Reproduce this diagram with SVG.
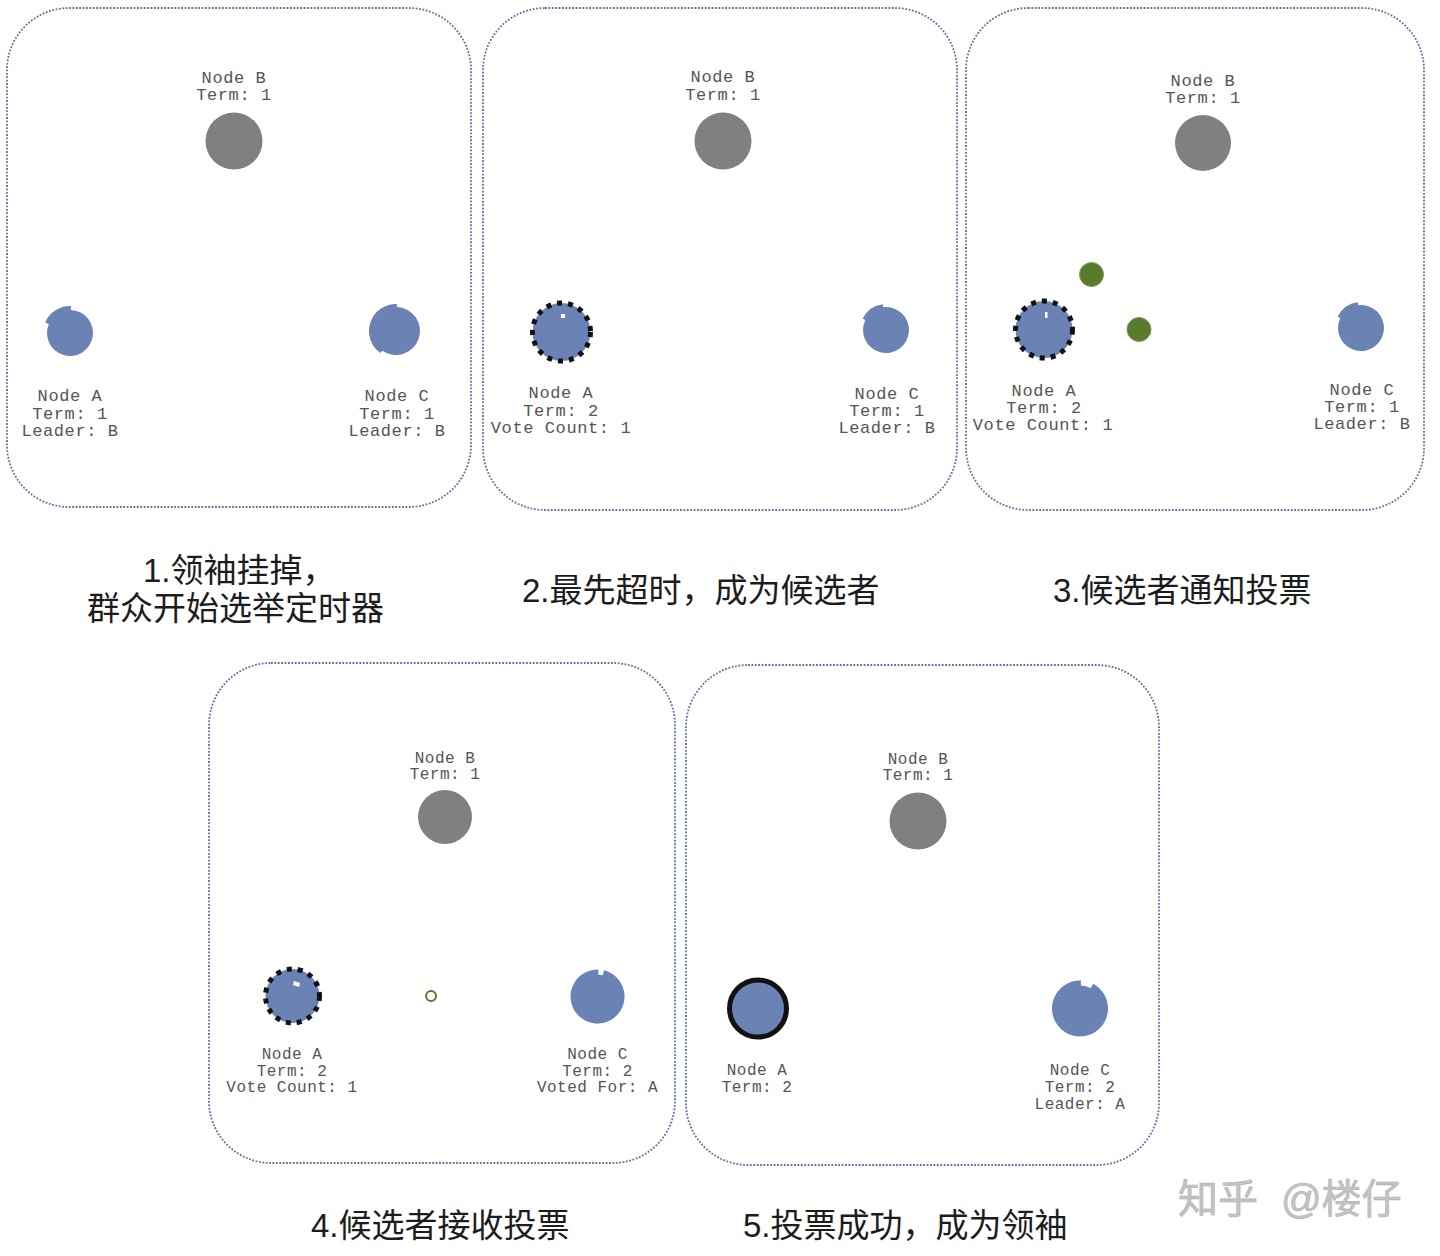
<svg xmlns="http://www.w3.org/2000/svg" width="1440" height="1256" viewBox="0 0 1440 1256">
<style>
.panel{fill:none;stroke:#5c71a6;stroke-width:1.8;stroke-dasharray:1.8 1.6}
.lbl{font-family:"Liberation Mono","DejaVu Sans Mono",monospace;font-size:17px;letter-spacing:0.6px;fill:#555;text-anchor:middle}
.lbl4{font-family:"Liberation Mono","DejaVu Sans Mono",monospace;font-size:16px;letter-spacing:0.5px;fill:#555;text-anchor:middle}
.gray{fill:#808080}
.blue{fill:#6a82b4}
.cand{fill:#6a82b4;stroke:#111;stroke-width:5;stroke-dasharray:5 6}
.leader{fill:#6a82b4;stroke:#111;stroke-width:5}
.vote{fill:#5a7b2c;stroke:#7c9a55;stroke-width:1}
.ring{fill:#fff;stroke:#5a7b2c;stroke-width:2}
.cap{font-family:"Liberation Sans","Noto Sans CJK SC",sans-serif;font-size:33px;fill:#1c1c1c}
.wm{font-family:"Liberation Sans","Noto Sans CJK SC",sans-serif;font-size:40px;fill:#c4c4c4;stroke:#b0b0b0;stroke-width:0.6}
</style>
<defs>
<path id="timerA" d="M-24.85,-10.55 A27,27 0 0 1 0.94,-26.98 L0.80,-22.99 A23,23 0 1 1 -21.17,-8.99 Z"/>
<path id="timerC1" d="M-15.49,22.12 A27,27 0 0 1 0.94,-26.98 L0.84,-23.99 A24,24 0 1 1 -13.77,19.66 Z"/>
<path id="timerC2" d="M-23.37,-11.40 A26,26 0 0 1 -3.17,-25.81 L-2.80,-22.83 A23,23 0 1 1 -20.67,-10.08 Z"/>
<path id="timerC4" d="M6.53,-26.20 A27,27 0 1 1 0.94,-26.98 L0.77,-21.99 L5.32,-21.35 Z"/>
<path id="timerC5" d="M13.15,-24.72 A28,28 0 1 1 0.98,-27.98 L0.80,-22.99 A23,23 0 0 1 10.80,-20.31 Z"/>
</defs>
<rect width="1440" height="1256" fill="#fff"/>

<!-- Panel 1 -->
<g id="panel1">
<rect class="panel" x="7" y="8" width="464" height="499" rx="62" ry="62"/>
<g id="p1-nodeB"><circle class="gray" cx="234" cy="141" r="28.5"/><text class="lbl" x="234" y="83">Node B</text><text class="lbl" x="234" y="100">Term: 1</text></g>
<g id="p1-nodeA"><use href="#timerA" class="blue" transform="translate(70,333)"/><text class="lbl" x="70" y="401">Node A</text><text class="lbl" x="70" y="418.5">Term: 1</text><text class="lbl" x="70" y="436">Leader: B</text></g>
<g id="p1-nodeC"><use href="#timerC1" class="blue" transform="translate(396,331)"/><text class="lbl" x="397" y="401">Node C</text><text class="lbl" x="397" y="418.5">Term: 1</text><text class="lbl" x="397" y="436">Leader: B</text></g>
</g>

<!-- Panel 2 -->
<g id="panel2">
<rect class="panel" x="483" y="8" width="474" height="502" rx="62" ry="62"/>
<g id="p2-nodeB"><circle class="gray" cx="723" cy="141" r="28.5"/><text class="lbl" x="723" y="82">Node B</text><text class="lbl" x="723" y="100">Term: 1</text></g>
<g id="p2-nodeA"><circle class="cand" cx="561.5" cy="332" r="29"/><rect x="561" y="314" width="4" height="4" fill="#fff"/><text class="lbl" x="561" y="398">Node A</text><text class="lbl" x="561" y="416">Term: 2</text><text class="lbl" x="561" y="433">Vote Count: 1</text></g>
<g id="p2-nodeC"><use href="#timerC2" class="blue" transform="translate(886,330)"/><text class="lbl" x="887" y="399">Node C</text><text class="lbl" x="887" y="416">Term: 1</text><text class="lbl" x="887" y="433">Leader: B</text></g>
</g>

<!-- Panel 3 -->
<g id="panel3">
<rect class="panel" x="966" y="8" width="458" height="502" rx="62" ry="62"/>
<g id="p3-nodeB"><circle class="gray" cx="1203" cy="143" r="28"/><text class="lbl" x="1203" y="86">Node B</text><text class="lbl" x="1203" y="103">Term: 1</text></g>
<g id="p3-nodeA"><circle class="cand" cx="1044" cy="329.5" r="28.5"/><rect x="1045" y="312" width="2.5" height="6" fill="#fff"/><text class="lbl" x="1044" y="396">Node A</text><text class="lbl" x="1044" y="413">Term: 2</text><text class="lbl" x="1043" y="430">Vote Count: 1</text></g>
<g id="p3-vote1"><circle class="vote" cx="1091.5" cy="274.5" r="12"/></g>
<g id="p3-vote2"><circle class="vote" cx="1139" cy="329.5" r="12"/></g>
<g id="p3-nodeC"><use href="#timerC2" class="blue" transform="translate(1361,328)"/><text class="lbl" x="1362" y="395">Node C</text><text class="lbl" x="1362" y="412">Term: 1</text><text class="lbl" x="1362" y="429">Leader: B</text></g>
</g>

<!-- Panel 4 -->
<g id="panel4">
<rect class="panel" x="209" y="663" width="466" height="500" rx="62" ry="62"/>
<g id="p4-nodeB"><circle class="gray" cx="445" cy="817" r="27"/><text class="lbl4" x="445" y="763">Node B</text><text class="lbl4" x="445" y="779">Term: 1</text></g>
<g id="p4-nodeA"><circle class="cand" cx="292.5" cy="996" r="27"/><path d="M294,981 L300,983 L299,987 L293,985 Z" fill="#fff"/><text class="lbl4" x="292" y="1059">Node A</text><text class="lbl4" x="292" y="1075.5">Term: 2</text><text class="lbl4" x="292" y="1092">Vote Count: 1</text></g>
<g id="p4-vote"><circle class="ring" cx="431" cy="996" r="5"/></g>
<g id="p4-nodeC"><use href="#timerC4" class="blue" transform="translate(597.5,996.5)"/><text class="lbl4" x="597.5" y="1059">Node C</text><text class="lbl4" x="597.5" y="1075.5">Term: 2</text><text class="lbl4" x="597.5" y="1092">Voted For: A</text></g>
</g>

<!-- Panel 5 -->
<g id="panel5">
<rect class="panel" x="686" y="665" width="473" height="500" rx="62" ry="62"/>
<g id="p5-nodeB"><circle class="gray" cx="918" cy="821" r="28.5"/><text class="lbl4" x="918" y="764">Node B</text><text class="lbl4" x="918" y="780">Term: 1</text></g>
<g id="p5-nodeA"><circle class="leader" cx="758" cy="1008.5" r="28.5"/><text class="lbl4" x="757" y="1075">Node A</text><text class="lbl4" x="757" y="1092">Term: 2</text></g>
<g id="p5-nodeC"><use href="#timerC5" class="blue" transform="translate(1080,1008.5)"/><text class="lbl4" x="1080" y="1075">Node C</text><text class="lbl4" x="1080" y="1092">Term: 2</text><text class="lbl4" x="1080" y="1109">Leader: A</text></g>
</g>

<g id="connectors"/>

<!-- Captions -->
<g id="captions">
<text class="cap" x="143" y="582">1.领袖挂掉，</text>
<text class="cap" x="87" y="620">群众开始选举定时器</text>
<text class="cap" x="522" y="602">2.最先超时，成为候选者</text>
<text class="cap" x="1053" y="602">3.候选者通知投票</text>
<text class="cap" x="311" y="1237">4.候选者接收投票</text>
<text class="cap" x="743" y="1237">5.投票成功，成为领袖</text>
</g>

<g id="watermark">
<text class="wm" x="1178" y="1213">知乎</text>
<text class="wm" x="1281" y="1213">@楼仔</text>
</g>
</svg>
